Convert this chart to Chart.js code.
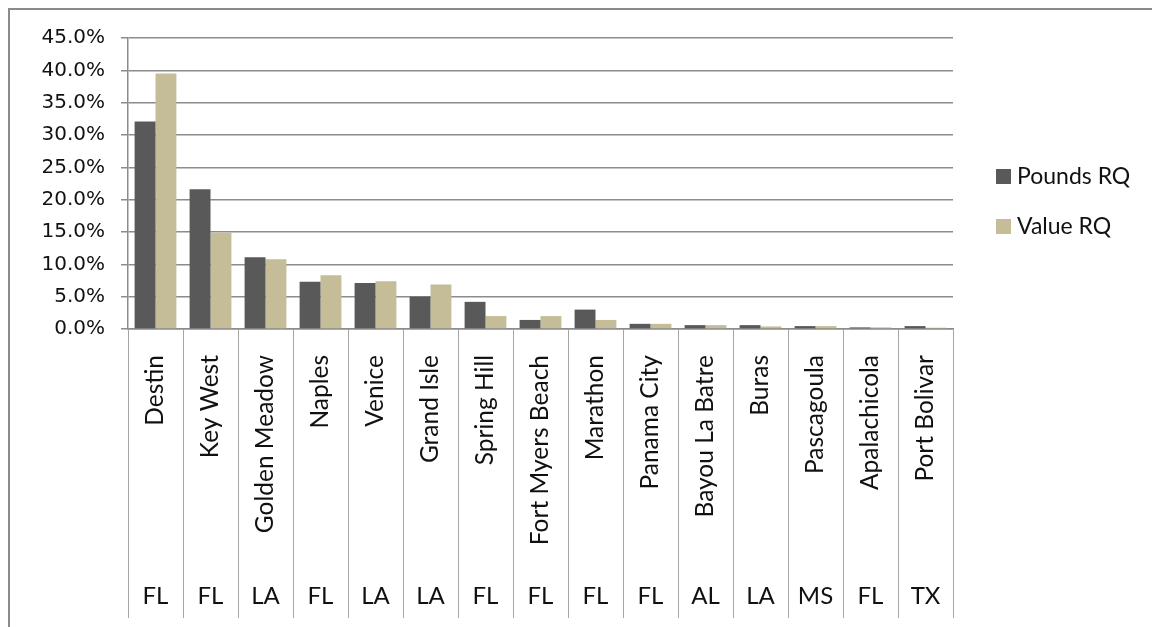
<!DOCTYPE html>
<html>
<head>
<meta charset="utf-8">
<script src="https://cdn.jsdelivr.net/npm/chart.js@4/dist/chart.umd.min.js"></script>
<style>
  html, body { margin: 0; padding: 0; background: #fff; }
  #wrap { width: 1152px; height: 627px; }
</style>
</head>
<body>
<div id="wrap"><canvas id="myChart" width="1152" height="627"></canvas></div>
<script>
// ports, their states and the two RQ series (percent)
const ports = ['Destin', 'Key West', 'Golden Meadow', 'Naples', 'Venice', 'Grand Isle', 'Spring Hill',
    'Fort Myers Beach', 'Marathon', 'Panama City', 'Bayou La Batre', 'Buras', 'Pascagoula', 'Apalachicola', 'Port Bolivar'];
const states = ['FL', 'FL', 'LA', 'FL', 'LA', 'LA', 'FL', 'FL', 'FL', 'FL', 'AL', 'LA', 'MS', 'FL', 'TX'];
const poundsRQ = [32.1, 21.6, 11.1, 7.3, 7.1, 5.0, 4.2, 1.4, 3.0, 0.8, 0.6, 0.6, 0.45, 0.25, 0.45];
const valueRQ = [39.5, 14.9, 10.8, 8.3, 7.4, 6.9, 2.0, 2.0, 1.4, 0.8, 0.6, 0.4, 0.45, 0.25, 0.2];
const seriesNames = ['Pounds RQ', 'Value RQ'];

const COLORS = {
    pounds: '#595959',
    value: '#c4bd97',
    grid: '#8c8c8c',
    sep: '#a6a6a6',
    text: '#111111'
};

// frame, state row, separators and legend
const extras = {
    id: 'extras',
    beforeDraw(chart) {
        const c = chart.ctx;
        c.save();
        c.fillStyle = '#fff';
        c.fillRect(0, 0, chart.width, chart.height);
        c.restore();
    },
    afterDraw(chart) {
        const c = chart.ctx;
        const x = chart.scales.x;
        const top = chart.chartArea.bottom;
        const half = (x.getPixelForValue(1) - x.getPixelForValue(0)) / 2;
        c.save();
        // category separators
        c.strokeStyle = COLORS.sep;
        c.lineWidth = 1;
        for (let i = 0; i <= ports.length; i++) {
            const px = Math.round(x.getPixelForValue(0) - half + i * 2 * half) + 0.5;
            c.beginPath();
            c.moveTo(px, top);
            c.lineTo(px, 618);
            c.stroke();
        }
        // state row
        c.fillStyle = COLORS.text;
        c.font = '24px Lato';
        c.textAlign = 'center';
        c.textBaseline = 'middle';
        states.forEach((s, i) => c.fillText(s, x.getPixelForValue(i), 596));
        // outer frame (top and left only, picture is cropped)
        c.strokeStyle = '#8a8a8a';
        c.lineWidth = 2;
        c.beginPath();
        c.moveTo(1152, 9);
        c.lineTo(9, 9);
        c.lineTo(9, 627);
        c.stroke();
        // legend
        c.font = '23px Lato';
        c.textAlign = 'left';
        chart.data.datasets.forEach((ds, i) => {
            const cy = 176 + i * 50;
            c.fillStyle = ds.backgroundColor;
            c.fillRect(996, cy - 7, 15, 15);
            c.fillStyle = COLORS.text;
            c.fillText(ds.label, 1017, cy + 1);
        });
        c.restore();
    }
};

const data = {
    labels: ports,
    datasets: [
        { label: seriesNames[0], data: poundsRQ, backgroundColor: COLORS.pounds },
        { label: seriesNames[1], data: valueRQ, backgroundColor: COLORS.value }
    ]
};

const config = {
    type: 'bar',
    data: data,
    options: {
        responsive: false,
        animation: false,
        devicePixelRatio: 1,
        layout: { padding: { top: 38, right: 199, left: 0, bottom: 0 } },
        datasets: {
            bar: { categoryPercentage: 0.76, barPercentage: 1.0 }
        },
        plugins: {
            legend: { display: false },
            title: { display: false },
            tooltip: { enabled: false }
        },
        scales: {
            x: {
                grid: { display: false, drawTicks: false },
                border: { display: true, color: COLORS.grid, width: 1.5 },
                ticks: {
                    autoSkip: false,
                    minRotation: 90,
                    maxRotation: 90,
                    padding: 26,
                    color: COLORS.text,
                    font: { family: 'Lato', size: 24.5 }
                },
                afterFit(scale) { scale.height = 298; }
            },
            y: {
                min: 0,
                max: 45,
                ticks: {
                    stepSize: 5,
                    padding: 16,
                    color: COLORS.text,
                    font: { family: 'DejaVu Sans', size: 20 },
                    callback: v => v.toFixed(1) + '%'
                },
                grid: { color: COLORS.grid, lineWidth: 1.5, tickLength: 7 },
                border: { display: true, color: COLORS.grid, width: 1.5 },
                afterFit(scale) { scale.width = 128; }
            }
        }
    },
    plugins: [extras]
};

const ctx = document.getElementById('myChart');
let myChart = new Chart(ctx, config);
</script>
</body>
</html>
